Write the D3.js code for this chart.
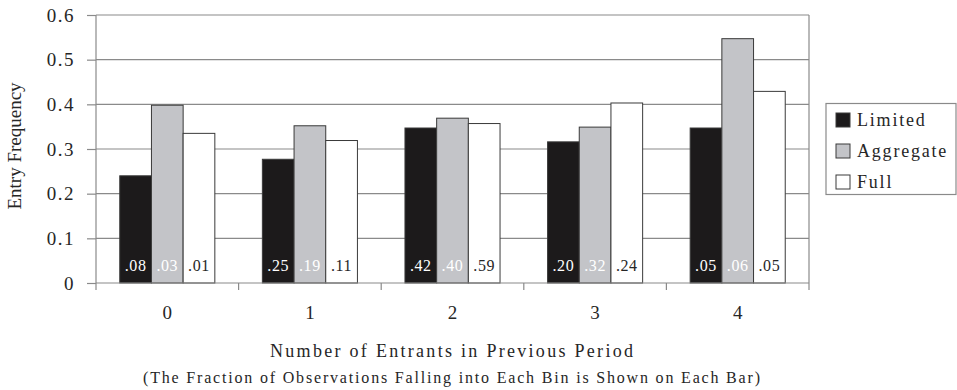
<!DOCTYPE html>
<html><head><meta charset="utf-8">
<script src="https://cdn.jsdelivr.net/npm/d3@7"></script>
<style>body{margin:0;background:#fff}svg{display:block}svg text{font-family:"Liberation Serif","Tinos","DejaVu Serif","Times New Roman",serif !important;fill:#262626}</style>
</head><body><svg id="c" width="957" height="390"></svg>
<script>
const categories = ["0","1","2","3","4"];
const seriesNames = ["Limited","Aggregate","Full"];
const limited   = [0.240, 0.277, 0.347, 0.316, 0.347];
const aggregate = [0.398, 0.352, 0.369, 0.349, 0.547];
const full      = [0.335, 0.319, 0.357, 0.403, 0.429];
const limitedFrac   = [".08", ".25", ".42", ".20", ".05"];
const aggregateFrac = [".03", ".19", ".40", ".32", ".06"];
const fullFrac      = [".01", ".11", ".59", ".24", ".05"];
const yTicks = [0, 0.1, 0.2, 0.3, 0.4, 0.5, 0.6];
const yTickLabels = ["0","0.1","0.2","0.3","0.4","0.5","0.6"];

const colors = ["#1c1a1b", "#c3c4c8", "#ffffff"];
const labelColors = ["#ffffff", "#ffffff", "#262626"];
const values = [limited, aggregate, full];
const fracs = [limitedFrac, aggregateFrac, fullFrac];
const FONT = "'Liberation Serif', 'DejaVu Serif', serif";

const svg = d3.select("#c");
const L = 96, R = 809, T = 15, B = 283;
const x = d3.scaleBand().domain(categories).range([L, R]).paddingInner(0).paddingOuter(0);
const y = d3.scaleLinear().domain([0, 0.6]).range([B, T]);
const bw = x.bandwidth() / 4.5;
const gapOuter = (x.bandwidth() - 3 * bw) / 2;

// gridlines
svg.append("g").selectAll("line").data(yTicks.filter(d => d > 0)).join("line")
  .attr("x1", L).attr("x2", R).attr("y1", d => y(d)).attr("y2", d => y(d))
  .attr("stroke", "#8a8a8a").attr("stroke-width", 1.2);
// right border
svg.append("line").attr("x1", R).attr("x2", R).attr("y1", T).attr("y2", B)
  .attr("stroke", "#8a8a8a").attr("stroke-width", 1.2);

// bars
const g = svg.append("g");
categories.forEach((c, i) => {
  values.forEach((vals, s) => {
    const bx = x(c) + gapOuter + s * bw;
    g.append("rect").attr("x", bx).attr("y", y(vals[i]))
      .attr("width", bw).attr("height", y(0) - y(vals[i]))
      .attr("fill", colors[s]).attr("stroke", "#3a3a3a").attr("stroke-width", 1);
    g.append("text").attr("x", bx + bw / 2).attr("y", 271)
      .attr("text-anchor", "middle").attr("font-size", 16)
      .style("font-family", FONT)
      .style("fill", labelColors[s]).style("letter-spacing", "0.6px")
      .text(fracs[s][i]);
  });
});

// y axis
const yAxis = d3.axisLeft(y).tickValues(yTicks).tickSize(9).tickPadding(12)
  .tickFormat((d, i) => yTickLabels[i]);
const ya = svg.append("g").attr("transform", `translate(${L},0)`).call(yAxis);
ya.attr("font-family", FONT);
ya.select(".domain").attr("stroke", "#8a8a8a").attr("stroke-width", 1.2).attr("d", `M0,${T}V${B}`);
ya.selectAll(".tick line").attr("stroke", "#8a8a8a").attr("stroke-width", 1.2);
ya.selectAll(".tick text").attr("font-size", 19).style("font-family", FONT)
  .style("letter-spacing", "1.5px").style("fill", "#262626");

// x axis
const xa = svg.append("g").attr("transform", `translate(0,${B})`)
  .call(d3.axisBottom(x).tickSize(0).tickPadding(23));
xa.attr("font-family", FONT);
xa.select(".domain").attr("stroke", "#8a8a8a").attr("stroke-width", 1.2).attr("d", `M${L},0H${R}`);
xa.selectAll(".tick text").attr("font-size", 19).style("font-family", FONT).style("fill", "#262626");
const bounds = categories.map(c => x(c)).concat([R]);
xa.append("g").selectAll("line").data(bounds).join("line")
  .attr("x1", d => d).attr("x2", d => d).attr("y1", 0).attr("y2", 7)
  .attr("stroke", "#8a8a8a").attr("stroke-width", 1.2);

// axis titles
svg.append("text").attr("transform", "translate(21,146) rotate(-90)")
  .attr("text-anchor", "middle").attr("font-size", 19).style("font-family", FONT)
  .text("Entry Frequency");
svg.append("text").attr("x", 270).attr("y", 357).attr("font-size", 18).style("font-family", FONT)
  .attr("textLength", 363).attr("lengthAdjust", "spacing")
  .text("Number of Entrants in Previous Period");
svg.append("text").attr("x", 143).attr("y", 383).attr("font-size", 16).style("font-family", FONT)
  .attr("textLength", 617).attr("lengthAdjust", "spacing")
  .text("(The Fraction of Observations Falling into Each Bin is Shown on Each Bar)");

// legend
svg.append("rect").attr("x", 826).attr("y", 103.5).attr("width", 130).attr("height", 91)
  .attr("fill", "#fff").attr("stroke", "#8a8a8a").attr("stroke-width", 1.2);
seriesNames.forEach((n, s) => {
  const cy = 120 + s * 31;
  svg.append("rect").attr("x", 836).attr("y", cy - 7).attr("width", 14).attr("height", 14)
    .attr("fill", colors[s]).attr("stroke", "#3a3a3a").attr("stroke-width", 1);
  svg.append("text").attr("x", 857).attr("y", cy + 6).attr("font-size", 18).style("font-family", FONT)
    .style("letter-spacing", "1.8px").text(n);
});
</script></body></html>
